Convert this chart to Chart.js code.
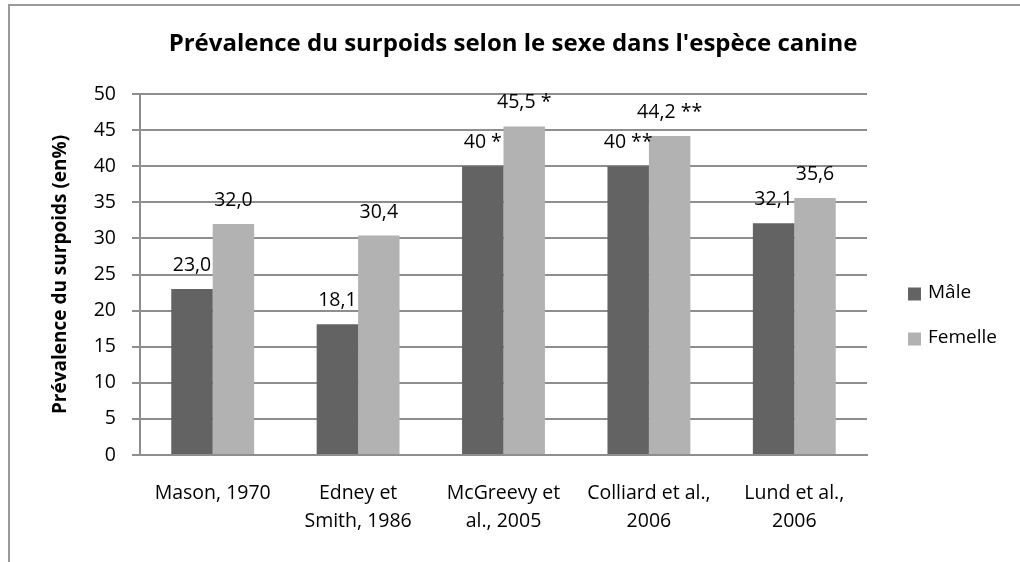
<!DOCTYPE html>
<html>
<head>
<meta charset="utf-8">
<script src="https://cdn.jsdelivr.net/npm/chart.js@4.4.0/dist/chart.umd.min.js"></script>
<style>
  html, body { margin: 0; padding: 0; background: #fff; }
  #wrap { width: 1020px; height: 562px; position: relative; }
</style>
</head>
<body>
<div id="wrap"><canvas id="chart"></canvas></div>
<script>
// données
const categories = [
  ['Mason, 1970'],
  ['Edney et', 'Smith, 1986'],
  ['McGreevy et', 'al., 2005'],
  ['Colliard et al.,', '2006'],
  ['Lund et al.,', '2006']
]
const seriesNames = ['Mâle', 'Femelle']
const maleValues = [23.0, 18.1, 40, 40, 32.1]
const femaleValues = [32.0, 30.4, 45.5, 44.2, 35.6]
const maleLabels = ['23,0', '18,1', '40 *', '40 **', '32,1']
const femaleLabels = ['32,0', '30,4', '45,5 *', '44,2 **', '35,6']
const yMin = 0
const yMax = 50
const yStep = 5
const chartTitle = "Prévalence du surpoids selon le sexe dans l'espèce canine"

const FONT = "'Open Sans', 'DejaVu Sans', sans-serif"
const GRID = '#8e8e8e'
const MALE = '#636363'
const FEMALE = '#b2b2b2'

// cadre (bord gauche et haut) + titre centré sur toute la largeur
const framePlugin = {
  id: 'frame',
  beforeDraw(chart) {
    const ctx = chart.ctx
    ctx.save()
    ctx.fillStyle = '#fff'
    ctx.fillRect(0, 0, chart.width, chart.height)
    ctx.strokeStyle = '#9a9a9a'
    ctx.lineWidth = 2
    ctx.beginPath()
    ctx.moveTo(9, chart.height)
    ctx.lineTo(9, 5)
    ctx.lineTo(chart.width, 5)
    ctx.stroke()
    ctx.font = 'bold 24px ' + FONT
    ctx.fillStyle = '#000'
    ctx.textAlign = 'center'
    ctx.textBaseline = 'alphabetic'
    ctx.fillText(chartTitle, 513, 51)
    ctx.restore()
  }
}

// étiquettes de valeur au-dessus des barres
const valueLabelPlugin = {
  id: 'valueLabels',
  afterDatasetsDraw(chart) {
    const ctx = chart.ctx
    ctx.save()
    ctx.font = '19.5px ' + FONT
    ctx.fillStyle = '#000'
    ctx.textAlign = 'center'
    ctx.textBaseline = 'alphabetic'
    chart.data.datasets.forEach((ds, i) => {
      const meta = chart.getDatasetMeta(i)
      meta.data.forEach((bar, j) => {
        ctx.fillText(ds.valueLabels[j], bar.x, bar.y - 18)
      })
    })
    ctx.restore()
  }
}

// légende à droite
const legendPlugin = {
  id: 'sideLegend',
  afterDraw(chart) {
    const ctx = chart.ctx
    const x = chart.chartArea.right + 41
    const rows = [294, 339]
    ctx.save()
    ctx.font = '19px ' + FONT
    ctx.textBaseline = 'middle'
    ctx.textAlign = 'left'
    chart.data.datasets.forEach((ds, i) => {
      ctx.fillStyle = ds.backgroundColor
      ctx.fillRect(x, rows[i] - 6.5, 13, 13)
      ctx.fillStyle = '#000'
      ctx.fillText(ds.label, x + 20, rows[i] - 1)
    })
    ctx.restore()
  }
}

const ctx = document.getElementById('chart').getContext('2d')
new Chart(ctx, {
  type: 'bar',
  data: {
    labels: categories,
    datasets: [
      {
        label: seriesNames[0],
        data: maleValues,
        valueLabels: maleLabels,
        backgroundColor: MALE,
        categoryPercentage: 0.57,
        barPercentage: 1
      },
      {
        label: seriesNames[1],
        data: femaleValues,
        valueLabels: femaleLabels,
        backgroundColor: FEMALE,
        categoryPercentage: 0.57,
        barPercentage: 1
      }
    ]
  },
  options: {
    responsive: true,
    maintainAspectRatio: false,
    animation: false,
    layout: {
      padding: { left: 0, right: 153, top: 94, bottom: 0 }
    },
    plugins: {
      legend: { display: false },
      tooltip: { enabled: false },
      title: { display: false }
    },
    scales: {
      x: {
        grid: { color: 'transparent', drawTicks: false },
        border: { display: true, color: GRID, width: 2 },
        ticks: {
          color: '#000',
          font: { family: FONT, size: 19.5, lineHeight: 1.45 },
          padding: 24,
          maxRotation: 0,
          minRotation: 0,
          autoSkip: false
        },
        afterFit(scale) { scale.height = 107 }
      },
      y: {
        min: yMin,
        max: yMax,
        ticks: {
          stepSize: yStep,
          color: '#000',
          font: { family: FONT, size: 19.5 },
          padding: 16
        },
        grid: { color: GRID, lineWidth: 2, tickLength: 8 },
        border: { display: true, color: GRID, width: 2 },
        title: {
          display: true,
          text: 'Prévalence du surpoids (en%)',
          color: '#000',
          font: { family: FONT, size: 19, weight: 'bold', lineHeight: 1.2 },
          padding: { top: 49, bottom: 0 }
        },
        afterFit(scale) { scale.width = 140 }
      }
    }
  },
  plugins: [framePlugin, valueLabelPlugin, legendPlugin]
})
</script>
</body>
</html>
